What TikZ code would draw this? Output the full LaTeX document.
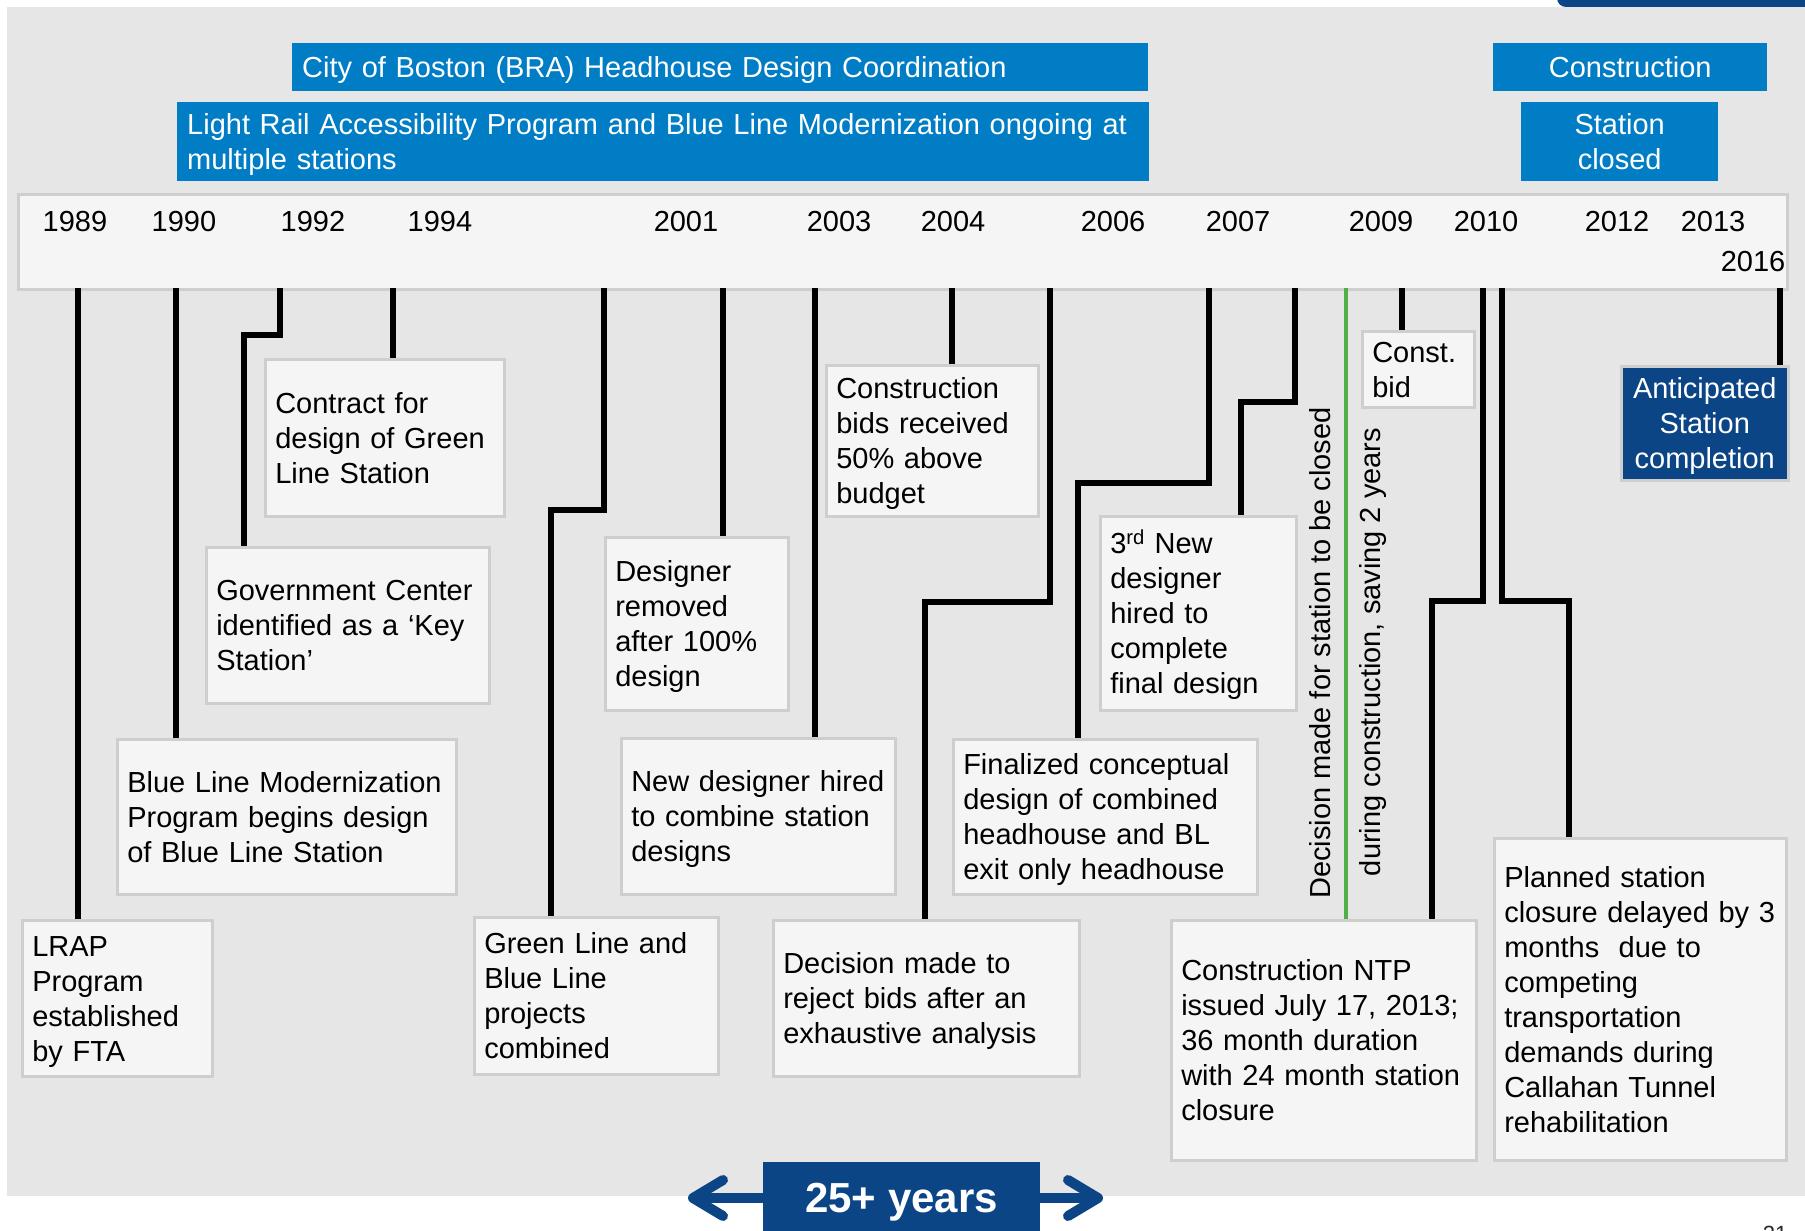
\documentclass[tikz,border=0pt]{standalone}
\usepackage{fontspec}
\setmainfont{Liberation Sans}
\usetikzlibrary{arrows.meta}
\definecolor{bggrey}{RGB}{230,230,230}
\definecolor{boxfill}{RGB}{245,245,245}
\definecolor{boxline}{RGB}{206,206,206}
\definecolor{mbtablue}{RGB}{0,125,197}
\definecolor{navy}{RGB}{11,69,134}
\definecolor{closegreen}{RGB}{80,176,72}

\begin{document}
\begin{tikzpicture}[
  x=1pt, y=-1pt,
  font=\fontsize{29}{35}\selectfont,
  evt/.style 2 args = {rectangle, draw=boxline, fill=boxfill, line width=2.5pt,
                       anchor=north west, inner xsep=10pt, inner ysep=0pt,
                       minimum width=#1pt, minimum height=#2pt,
                       /utils/exec={\pgfmathsetmacro\evtw{#1-20}},
                       text width=\evtw pt, align=left,
                       execute at begin node={\rule{0pt}{28pt}},
                       execute at end node={\rule[-7pt]{0pt}{7pt}}},
  band/.style 2 args = {rectangle, fill=mbtablue, text=white,
                        anchor=north west, inner xsep=10pt, inner ysep=0pt,
                        minimum width=#1pt, minimum height=#2pt,
                        /utils/exec={\pgfmathsetmacro\bandw{#1-20}},
                        text width=\bandw pt, align=left,
                        execute at begin node={\rule{0pt}{28pt}},
                        execute at end node={\rule[-7pt]{0pt}{7pt}}},
  bar/.style = {rectangle, draw=boxline, fill=boxfill, line width=3pt,
                anchor=north west, minimum width=1769pt, minimum height=95pt},
  year/.style = {inner sep=0pt},
  stem/.style = {line width=5.5pt},
  span/.style = {draw=navy, line width=10pt,
                 -{Straight Barb[length=30pt, width=36pt, round]}}
]
\useasboundingbox (0,0) rectangle (1805,1231);
\clip (0,0) rectangle (1805,1231);

% Background panel and header tab
\fill[bggrey] (7,7) rectangle (1830,1196);
\fill[navy, rounded corners=9pt] (1557,-20) rectangle (1830,7);

% Programme bands above the timeline
\node[band={856}{48}] (bra) at (292,43) {City of Boston (BRA) Headhouse Design Coordination};
\node[band={972}{79}] (lrap_band) at (177,102) {Light Rail Accessibility Program and Blue Line Modernization ongoing at\\multiple stations};
\node[band={274}{48}, align=center] (constr) at (1493,43) {Construction};
\node[band={197}{79}, align=center] (closed) at (1521,102) {Station\\closed};

% Timeline bar with years
\node[bar] (bar) at (17,193) {};
\foreach \yr/\xx in {1989/75, 1990/184, 1992/313, 1994/440, 2001/686, 2003/839,
                     2004/953, 2006/1113, 2007/1238, 2009/1381, 2010/1486,
                     2012/1617, 2013/1713}
  \node[year] (y\yr) at (\xx,222) {\yr};
\node[year] (y2016) at (1753,262) {2016};

% Stem roots on the bottom edge of the bar
\foreach \n/\xx in {1/78, 2/176, 3/280, 4/393, 5/604, 6/723, 7/815, 8/952,
                    9/1050, 10/1209, 11/1295, 12/1346, 13/1402, 14/1483,
                    15/1502, 16/1780}
  \coordinate (t\n) at (\xx,288);

% Event boxes
\node[evt={190}{156}] (lrap) at (21,919) {LRAP\\Program\\established\\by FTA};
\node[evt={339}{155}] (blm) at (116,738) {Blue Line Modernization\\Program begins design\\of Blue Line Station};
\node[evt={283}{156}] (gc) at (205,546) {Government Center\\identified as a ‘Key\\Station’};
\node[evt={239}{157}] (contract) at (264,358) {Contract for\\design of Green\\Line Station};
\node[evt={244}{157}] (glbl) at (473,916) {Green Line and\\Blue Line\\projects\\combined};
\node[evt={183}{173}] (removed) at (604,536) {Designer\\removed\\after 100\%\\design};
\node[evt={274}{156}] (newdes) at (620,737) {New designer hired\\to combine station\\designs};
\node[evt={212}{151}] (bids) at (825,364) {Construction\\bids received\\50\% above\\budget};
\node[evt={306}{156}] (reject) at (772,919) {Decision made to\\reject bids after an\\exhaustive analysis};
\node[evt={304}{155}] (final) at (952,738) {Finalized conceptual\\design of combined\\headhouse and BL\\exit only headhouse};
\node[evt={196}{194}] (third) at (1099,515) {3\textsuperscript{rd} New\\designer\\hired to\\complete\\final design};
\node[evt={112}{76}] (cbid) at (1361,330) {Const.\\bid};
\node[evt={305}{240}] (ntp) at (1170,919) {Construction NTP\\issued July 17, 2013;\\36 month duration\\with 24 month station\\closure};
\node[evt={292}{322}] (delay) at (1493,837) {Planned station\\closure delayed by 3\\months~ due to\\competing\\transportation\\demands during\\Callahan Tunnel\\rehabilitation};
\node[evt={167}{114}, fill=navy, text=white, align=center] (done) at (1620,365) {Anticipated\\Station\\completion};

% Closure decision along the green line
\node[rotate=90] (dec_a) at (1320,653) {Decision made for station to be closed};
\node[rotate=90] (dec_b) at (1373,652) {during construction, saving 2 years};

% Stems from the bar to the boxes
\draw[stem] (t1) -- (t1 |- lrap.north);
\draw[stem] (t2) -- (t2 |- blm.north);
\draw[stem] (t3) -- ++(0,47) -| ([xshift=39pt]gc.north west);
\draw[stem] (t4) -- (t4 |- contract.north);
\draw[stem] (t5) -- ++(0,222) -| ([xshift=78pt]glbl.north west);
\draw[stem] (t6) -- (t6 |- removed.north);
\draw[stem] (t7) -- (t7 |- newdes.north);
\draw[stem] (t8) -- (t8 |- bids.north);
\draw[stem] (t9) -- ++(0,314) -| ([xshift=153pt]reject.north west);
\draw[stem] (t10) -- ++(0,195) -| ([xshift=126pt]final.north west);
\draw[stem] (t11) -- ++(0,114) -| ([xshift=142pt]third.north west);
\draw[stem, draw=closegreen, line width=4pt] (t12) -- (t12 |- ntp.north);
\draw[stem] (t13) -- (t13 |- cbid.north);
\draw[stem] (t14) -- ++(0,313) -| ([xshift=262pt]ntp.north west);
\draw[stem] (t15) -- ++(0,313) -| ([xshift=76pt]delay.north west);
\draw[stem] (t16) -- (t16 |- done.north);

% Span of the whole project
\coordinate (span_l) at (688,1198);
\coordinate (span_r) at (1103,1198);
\node[fill=navy, text=white, font=\fontsize{42}{48}\bfseries,
      minimum width=277pt, minimum height=80pt] (yrs) at (901.5,1202) {25+ years};
\draw[span] (yrs.west |- span_l) -- (span_l);
\draw[span] (yrs.east |- span_r) -- (span_r);

% Page number, cut by the edge
\node[anchor=north, inner sep=0pt, text=black!85, font=\fontsize{22}{26}\selectfont] (page) at (1775,1226) {21};
\end{tikzpicture}
\end{document}
